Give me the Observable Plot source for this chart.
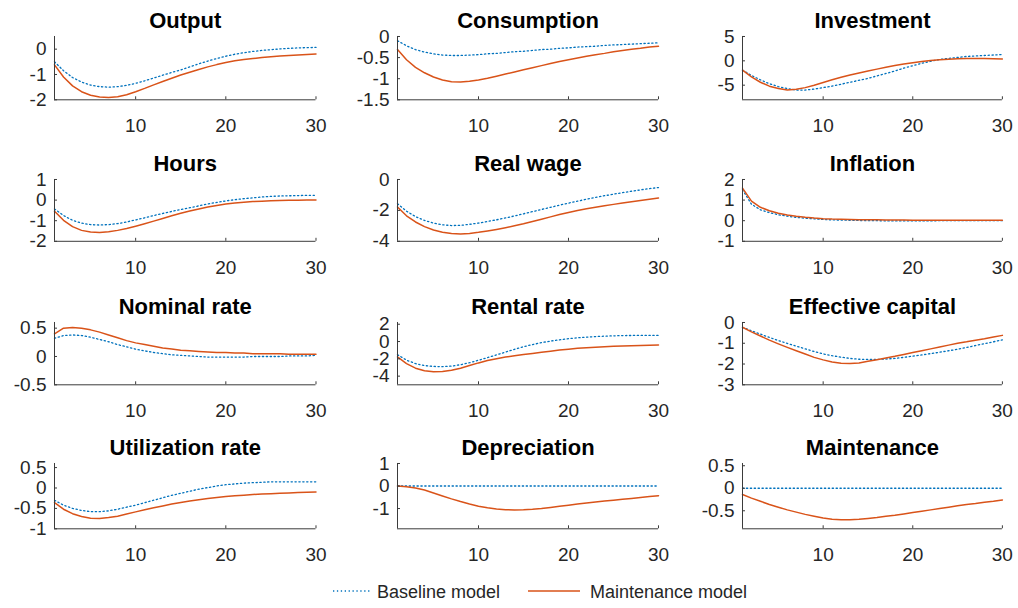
<!DOCTYPE html>
<html><head><meta charset="utf-8">
<script src="https://cdn.jsdelivr.net/npm/d3@7"></script>
<script src="https://cdn.jsdelivr.net/npm/@observablehq/plot@0.6"></script>
<style>
body{margin:0;background:#fff;}
#chart{position:relative;width:1018px;height:608px;font-family:"Liberation Sans",Arial,Helvetica,sans-serif;}
#chart svg.panel{position:absolute;overflow:visible;}
</style></head><body><div id="chart"></div><script>
const periods = [1,2,3,4,5,6,7,8,9,10,11,12,13,14,15,16,17,18,19,20,21,22,23,24,25,26,27,28,29,30];
const panelTitles = ["Output","Consumption","Investment","Hours","Real wage","Inflation","Nominal rate","Rental rate","Effective capital","Utilization rate","Depreciation","Maintenance"];
const seriesNames = ["Baseline model","Maintenance model"];

const outputBaseline = [-0.50,-0.85,-1.12,-1.30,-1.42,-1.48,-1.50,-1.48,-1.43,-1.35,-1.25,-1.14,-1.03,-0.92,-0.82,-0.70,-0.58,-0.47,-0.37,-0.28,-0.20,-0.14,-0.09,-0.05,-0.02,0.01,0.03,0.05,0.06,0.07];
const outputMaintenance = [-0.62,-1.10,-1.45,-1.68,-1.82,-1.89,-1.91,-1.88,-1.80,-1.68,-1.55,-1.41,-1.28,-1.15,-1.02,-0.91,-0.80,-0.70,-0.61,-0.53,-0.46,-0.41,-0.37,-0.33,-0.30,-0.27,-0.25,-0.23,-0.21,-0.19];
const consumptionBaseline = [-0.10,-0.22,-0.31,-0.37,-0.41,-0.44,-0.45,-0.45,-0.44,-0.43,-0.41,-0.40,-0.38,-0.36,-0.35,-0.33,-0.31,-0.30,-0.28,-0.27,-0.25,-0.24,-0.23,-0.21,-0.20,-0.19,-0.18,-0.17,-0.16,-0.15];
const consumptionMaintenance = [-0.31,-0.55,-0.73,-0.86,-0.96,-1.03,-1.07,-1.08,-1.06,-1.03,-0.99,-0.94,-0.89,-0.84,-0.79,-0.74,-0.69,-0.64,-0.59,-0.55,-0.51,-0.47,-0.43,-0.40,-0.36,-0.33,-0.30,-0.28,-0.25,-0.23];
const investmentBaseline = [-1.9,-3.0,-3.9,-4.7,-5.3,-5.7,-6.0,-6.0,-5.8,-5.5,-5.2,-4.8,-4.4,-4.0,-3.6,-3.1,-2.6,-2.1,-1.5,-1.0,-0.5,-0.1,0.3,0.5,0.7,0.9,1.0,1.1,1.2,1.3];
const investmentMaintenance = [-1.9,-3.3,-4.4,-5.2,-5.7,-6.0,-5.85,-5.5,-5.0,-4.45,-3.9,-3.38,-2.9,-2.48,-2.1,-1.7,-1.33,-0.98,-0.66,-0.38,-0.14,0.06,0.22,0.34,0.42,0.47,0.48,0.46,0.43,0.4];
const hoursBaseline = [-0.43,-0.75,-0.98,-1.12,-1.19,-1.21,-1.19,-1.14,-1.06,-0.96,-0.86,-0.75,-0.65,-0.55,-0.46,-0.37,-0.28,-0.19,-0.11,-0.04,0.02,0.07,0.11,0.15,0.18,0.20,0.21,0.22,0.23,0.23];
const hoursMaintenance = [-0.54,-0.98,-1.29,-1.47,-1.55,-1.57,-1.54,-1.47,-1.38,-1.27,-1.15,-1.02,-0.89,-0.76,-0.64,-0.53,-0.43,-0.34,-0.26,-0.19,-0.14,-0.10,-0.07,-0.05,-0.03,-0.02,-0.01,-0.01,0.00,0.00];
const realWageBaseline = [-1.57,-2.05,-2.40,-2.65,-2.82,-2.93,-2.98,-2.97,-2.90,-2.82,-2.72,-2.61,-2.49,-2.36,-2.22,-2.08,-1.94,-1.80,-1.66,-1.53,-1.40,-1.28,-1.16,-1.05,-0.95,-0.85,-0.76,-0.67,-0.59,-0.52];
const realWageMaintenance = [-1.78,-2.35,-2.75,-3.05,-3.27,-3.41,-3.49,-3.52,-3.49,-3.42,-3.33,-3.23,-3.12,-3.00,-2.87,-2.72,-2.57,-2.42,-2.27,-2.13,-2.01,-1.90,-1.80,-1.70,-1.61,-1.52,-1.44,-1.36,-1.28,-1.20];
const inflationBaseline = [1.50,0.80,0.53,0.39,0.29,0.22,0.16,0.12,0.09,0.06,0.04,0.03,0.02,0.01,0.00,0.00,-0.01,-0.01,-0.01,-0.01,-0.01,-0.01,0.00,0.00,0.00,0.00,0.00,0.00,0.00,0.00];
const inflationMaintenance = [1.58,0.95,0.65,0.48,0.36,0.28,0.22,0.17,0.13,0.10,0.08,0.07,0.06,0.05,0.04,0.04,0.03,0.03,0.03,0.02,0.02,0.02,0.02,0.02,0.02,0.02,0.02,0.02,0.02,0.02];
const nominalRateBaseline = [0.32,0.37,0.38,0.37,0.34,0.30,0.26,0.21,0.17,0.13,0.10,0.07,0.05,0.03,0.02,0.01,0.00,-0.01,-0.01,-0.01,-0.01,-0.01,0.00,0.00,0.00,0.00,0.01,0.01,0.01,0.02];
const nominalRateMaintenance = [0.40,0.50,0.51,0.50,0.47,0.43,0.38,0.33,0.28,0.24,0.21,0.18,0.15,0.13,0.11,0.10,0.09,0.08,0.07,0.07,0.06,0.06,0.05,0.05,0.05,0.05,0.04,0.04,0.04,0.04];
const rentalRateBaseline = [-1.52,-2.15,-2.55,-2.78,-2.88,-2.90,-2.84,-2.68,-2.45,-2.16,-1.86,-1.54,-1.22,-0.90,-0.60,-0.35,-0.13,0.05,0.20,0.33,0.43,0.51,0.57,0.62,0.66,0.69,0.70,0.71,0.71,0.70];
const rentalRateMaintenance = [-1.78,-2.55,-3.08,-3.38,-3.50,-3.46,-3.32,-3.08,-2.78,-2.47,-2.20,-1.98,-1.80,-1.65,-1.51,-1.38,-1.24,-1.11,-0.99,-0.88,-0.79,-0.71,-0.65,-0.59,-0.55,-0.51,-0.48,-0.45,-0.43,-0.41];
const capitalBaseline = [-0.23,-0.40,-0.56,-0.72,-0.87,-1.01,-1.14,-1.27,-1.40,-1.51,-1.60,-1.67,-1.73,-1.77,-1.78,-1.78,-1.76,-1.73,-1.68,-1.62,-1.56,-1.50,-1.43,-1.36,-1.29,-1.20,-1.11,-1.02,-0.93,-0.84];
const capitalMaintenance = [-0.23,-0.45,-0.65,-0.85,-1.03,-1.20,-1.36,-1.52,-1.68,-1.80,-1.90,-1.96,-1.98,-1.95,-1.87,-1.79,-1.71,-1.63,-1.54,-1.45,-1.36,-1.27,-1.18,-1.09,-1.00,-0.93,-0.85,-0.78,-0.70,-0.62];
const utilizationBaseline = [-0.30,-0.42,-0.50,-0.55,-0.58,-0.58,-0.56,-0.52,-0.47,-0.42,-0.36,-0.30,-0.24,-0.18,-0.13,-0.08,-0.03,0.01,0.05,0.08,0.10,0.12,0.13,0.14,0.15,0.15,0.15,0.15,0.15,0.15];
const utilizationMaintenance = [-0.36,-0.52,-0.63,-0.70,-0.74,-0.745,-0.725,-0.69,-0.64,-0.585,-0.535,-0.485,-0.44,-0.395,-0.355,-0.32,-0.29,-0.26,-0.235,-0.21,-0.19,-0.175,-0.16,-0.15,-0.14,-0.13,-0.12,-0.11,-0.105,-0.10];
const depreciationBaseline = [0,0,0,0,0,0,0,0,0,0,0,0,0,0,0,0,0,0,0,0,0,0,0,0,0,0,0,0,0,0];
const depreciationMaintenance = [0.00,-0.03,-0.09,-0.18,-0.31,-0.44,-0.57,-0.69,-0.80,-0.90,-0.97,-1.02,-1.05,-1.06,-1.05,-1.03,-1.00,-0.95,-0.90,-0.85,-0.80,-0.75,-0.71,-0.67,-0.63,-0.59,-0.55,-0.51,-0.47,-0.43];
const maintenanceBaseline = [0,0,0,0,0,0,0,0,0,0,0,0,0,0,0,0,0,0,0,0,0,0,0,0,0,0,0,0,0,0];
const maintenanceMaintenance = [-0.14,-0.22,-0.29,-0.36,-0.42,-0.48,-0.53,-0.58,-0.62,-0.66,-0.69,-0.70,-0.70,-0.69,-0.67,-0.65,-0.62,-0.60,-0.57,-0.54,-0.51,-0.48,-0.45,-0.42,-0.39,-0.36,-0.34,-0.31,-0.29,-0.26];

const xTicks = [10,20,30];
const yDomains = [[-2,0.5],[-1.5,0],[-8,5],[-2,1],[-4,0],[-1,2],[-0.5,0.6],[-5,2.2],[-3,0],[-1,0.6],[-1.9,1],[-0.9,0.55]];
const yTicks = [[-2,-1,0],[-1.5,-1,-0.5,0],[-5,0,5],[-2,-1,0,1],[-4,-2,0],[-1,0,1,2],[-0.5,0,0.5],[-4,-2,0,2],[-3,-2,-1,0],[-1,-0.5,0,0.5],[-1,0,1],[-0.5,0,0.5]];

const baselineSeries = [outputBaseline,consumptionBaseline,investmentBaseline,hoursBaseline,realWageBaseline,inflationBaseline,nominalRateBaseline,rentalRateBaseline,capitalBaseline,utilizationBaseline,depreciationBaseline,maintenanceBaseline];
const maintenanceSeries = [outputMaintenance,consumptionMaintenance,investmentMaintenance,hoursMaintenance,realWageMaintenance,inflationMaintenance,nominalRateMaintenance,rentalRateMaintenance,capitalMaintenance,utilizationMaintenance,depreciationMaintenance,maintenanceMaintenance];

const BLUE = "#0072BD", ORANGE = "#D95319", AXIS = "#3a3a3a";
const FONT = "'Liberation Sans', Arial, Helvetica, sans-serif";
const colLeft = [53.5, 397.3, 741.8], colRight = [315, 658.3, 1001.7];
const rowTop = [36, 179, 322, 462.5], rowBottom = [99.3, 240.8, 384.3, 527.8];

const chart = document.getElementById("chart");
const mL = 60, mR = 20, mT = 40, mB = 40;

panelTitles.forEach((title, i) => {
  const row = Math.floor(i / 3), col = i % 3;
  const L = colLeft[col], R = colRight[col], T = rowTop[row], B = rowBottom[row];
  const pw = R - L, ph = B - T;
  const data = periods.map((t, j) => ({t, base: baselineSeries[i][j], maint: maintenanceSeries[i][j]}));
  const svg = Plot.plot({
    width: mL + pw + mR, height: mT + ph + mB,
    marginLeft: mL, marginRight: mR, marginTop: mT, marginBottom: mB,
    style: {fontFamily: FONT, fontSize: "19px", color: "#262626", background: "transparent", overflow: "visible"},
    x: {domain: [1, 30], ticks: xTicks, tickSize: 0, tickPadding: 19, tickFormat: d => String(d), label: null},
    y: {domain: yDomains[i], ticks: yTicks[i], tickSize: 0, tickPadding: 8, tickFormat: d => String(d), label: null},
    marks: [
      Plot.line(data, {x: "t", y: "base", stroke: BLUE, strokeWidth: 1.3, strokeDasharray: "1.3,2.6"}),
      Plot.line(data, {x: "t", y: "maint", stroke: ORANGE, strokeWidth: 1.5}),
      Plot.ruleX([1], {stroke: AXIS, strokeWidth: 1}),
      Plot.ruleY([yDomains[i][0]], {stroke: AXIS, strokeWidth: 1}),
      Plot.tickX(xTicks, {x: d => d, insetTop: ph - 3, stroke: AXIS}),
      Plot.tickY(yTicks[i], {y: d => d, insetRight: pw - 3, stroke: AXIS}),
      Plot.text([title], {frameAnchor: "top", dy: -8, lineAnchor: "bottom", fontWeight: "bold", fontSize: 22, fill: "black"})
    ]
  });
  svg.classList.add("panel");
  svg.style.left = (L - mL) + "px";
  svg.style.top = (T - mT) + "px";
  chart.appendChild(svg);
});

// legend
const ns = "http://www.w3.org/2000/svg";
const leg = document.createElementNS(ns, "svg");
leg.setAttribute("width", 1018);
leg.setAttribute("height", 608);
leg.style.position = "absolute"; leg.style.left = "0px"; leg.style.top = "0px";
const legendItems = [
  {name: seriesNames[0], color: BLUE, dash: "1.3,2.6", x1: 333, x2: 371, tx: 377},
  {name: seriesNames[1], color: ORANGE, dash: null, x1: 528, x2: 580, tx: 590}
];
legendItems.forEach(it => {
  const ln = document.createElementNS(ns, "line");
  ln.setAttribute("x1", it.x1); ln.setAttribute("x2", it.x2);
  ln.setAttribute("y1", 591); ln.setAttribute("y2", 591);
  ln.setAttribute("stroke", it.color);
  ln.setAttribute("stroke-width", it.dash ? 1.3 : 1.5);
  if (it.dash) ln.setAttribute("stroke-dasharray", it.dash);
  leg.appendChild(ln);
  const tx = document.createElementNS(ns, "text");
  tx.setAttribute("x", it.tx); tx.setAttribute("y", 597.5);
  tx.setAttribute("font-family", FONT); tx.setAttribute("font-size", 18);
  tx.setAttribute("fill", "#262626");
  tx.textContent = it.name;
  leg.appendChild(tx);
});
chart.appendChild(leg);
</script></body></html>
